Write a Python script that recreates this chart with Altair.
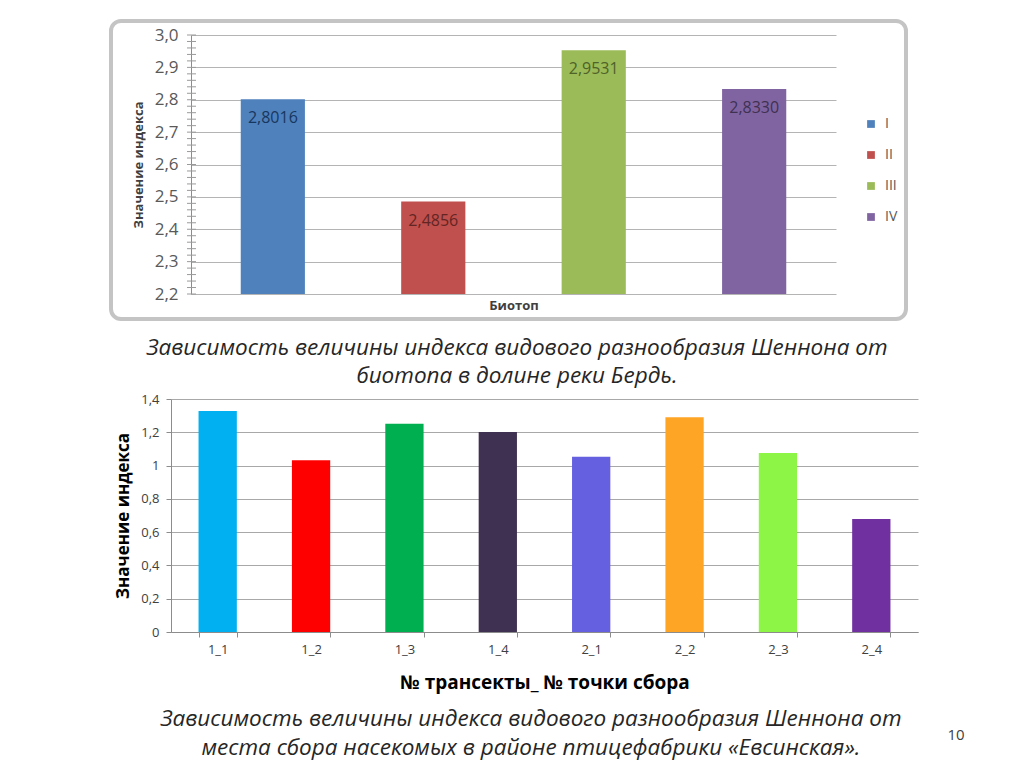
import altair as alt
import pandas as pd

FONT = "Open Sans"

# ---- data: top chart ----
biotopes = ["I", "II", "III", "IV"]
biotope_index = [2.8016, 2.4856, 2.9531, 2.8330]
biotope_text = ["2,8016", "2,4856", "2,9531", "2,8330"]
biotope_colors = ["#4F81BD", "#C0504D", "#9BBB59", "#8064A2"]
biotope_text_colors = ["#17375E", "#632523", "#4F6228", "#3F3151"]
top_ticks = [2.2, 2.3, 2.4, 2.5, 2.6, 2.7, 2.8, 2.9, 3.0]
top_minor = [round(2.2 + 0.02 * i, 2) for i in range(41)]

# ---- data: bottom chart ----
points = ["1_1", "1_2", "1_3", "1_4", "2_1", "2_2", "2_3", "2_4"]
point_index = [1.328, 1.032, 1.252, 1.202, 1.053, 1.290, 1.075, 0.679]
point_colors = ["#00B0F0", "#FF0000", "#00B050", "#3F3151",
                "#6460E0", "#FFA526", "#8CF546", "#7030A0"]
bottom_ticks = [0, 0.2, 0.4, 0.6, 0.8, 1.0, 1.2, 1.4]

caption_top = ["Зависимость величины индекса видового разнообразия Шеннона от",
               "биотопа в долине реки Бердь."]
caption_bottom = ["Зависимость величины индекса видового разнообразия Шеннона от",
                  "места сбора насекомых в районе птицефабрики «Евсинская»."]
page_number = "10"

one = pd.DataFrame({"k": [0]})

# ================= top chart =================
top_df = pd.DataFrame({"biotope": biotopes, "value": biotope_index,
                       "text": biotope_text, "tcolor": biotope_text_colors})
minor_df = pd.DataFrame({"value": top_minor})

x_top = alt.X("biotope:N", sort=biotopes,
              scale=alt.Scale(domain=biotopes, range=[20, 665],
                              paddingInner=0.6, paddingOuter=0.31),
              axis=alt.Axis(title="Биотоп", labels=False, ticks=False, domain=False,
                            titleFont=FONT, titleFontSize=13, titleFontWeight="bold",
                            titleColor="#404040", titlePadding=5))
y_scale_top = alt.Scale(domain=[2.2, 3.0], zero=False, nice=False)
y_top = alt.Y("value:Q", scale=y_scale_top,
              axis=alt.Axis(title="Значение индекса", values=top_ticks, offset=-20,
                            labelExpr="replace(format(datum.value, '.1f'), '.', ',')",
                            grid=True, gridColor="#B4B4B4", domainColor="#8C8C8C",
                            ticks=False, labelPadding=13,
                            labelFont=FONT, labelFontSize=17, labelColor="#595959",
                            titleFont=FONT, titleFontSize=13, titleFontWeight="bold",
                            titleColor="#404040", titlePadding=9))

frame = alt.Chart(one).mark_rect(fill="transparent", stroke="#C4C4C4", strokeWidth=4,
                                 cornerRadius=10).encode(
    x=alt.value(-60), x2=alt.value(735), y=alt.value(-14), y2=alt.value(284))

bars_top = alt.Chart(top_df).mark_bar().encode(
    x=x_top, y=y_top, y2=alt.datum(2.2),
    color=alt.Color("biotope:N", sort=biotopes,
                    scale=alt.Scale(domain=biotopes, range=biotope_colors),
                    legend=alt.Legend(title=None, orient="none", legendX=693, legendY=82,
                                      symbolType="square", symbolSize=60, symbolStrokeWidth=0,
                                      labelFont=FONT, labelFontSize=14, labelColor="#595959",
                                      labelOffset=7, rowPadding=17, padding=0)))

labels_top = alt.Chart(top_df).mark_text(font=FONT, fontSize=16, baseline="middle", dy=19).encode(
    x=x_top, y=y_top, text="text:N", fill=alt.Fill("tcolor:N", scale=None))

minor = alt.Chart(minor_df).mark_rule(color="#9A9A9A", strokeWidth=1).encode(
    y=y_top, x=alt.value(16), x2=alt.value(25))

cap_top = alt.Chart(one).mark_text(text=caption_top, font=FONT, fontStyle="italic",
                                   fontSize=22.5, lineHeight=28, color="#262626",
                                   align="center", baseline="middle").encode(
    x=alt.value(346), y=alt.value(312.5))

top = alt.layer(frame, bars_top, labels_top, minor, cap_top).properties(width=665, height=259)

# ================= bottom chart =================
bot_df = pd.DataFrame({"point": points, "value": point_index})

x_bot = alt.X("point:N", sort=points,
              scale=alt.Scale(domain=points, paddingInner=0.59, paddingOuter=0.295),
              axis=alt.Axis(title="№ трансекты_ № точки сбора", labelAngle=0, tickBand="extent",
                            tickSize=5, tickColor="#8C8C8C", domainColor="#8C8C8C",
                            labelFont=FONT, labelFontSize=13, labelColor="#404040",
                            labelPadding=6, titleFont=FONT, titleFontSize=19,
                            titleFontWeight="bold", titleColor="#000000", titlePadding=17))
y_bot = alt.Y("value:Q", scale=alt.Scale(domain=[0, 1.4], nice=False),
              axis=alt.Axis(title="Значение индекса", values=bottom_ticks,
                            labelExpr="replace(toString(round(datum.value*10)/10), '.', ',')",
                            grid=True, gridColor="#A8A8A8", domainColor="#8C8C8C",
                            tickColor="#8C8C8C", tickSize=5, labelPadding=7,
                            labelFont=FONT, labelFontSize=13, labelColor="#404040",
                            titleFont=FONT, titleFontSize=17, titleFontWeight="bold",
                            titleColor="#000000", titlePadding=8))

spacer = alt.Chart(one).mark_rule(strokeOpacity=0, strokeWidth=1).encode(
    x=alt.value(-40), y=alt.value(-10), y2=alt.value(0))

bars_bot = alt.Chart(bot_df).mark_bar().encode(
    x=x_bot, y=y_bot,
    color=alt.Color("point:N", sort=points,
                    scale=alt.Scale(domain=points, range=point_colors), legend=None))

cap_bot = alt.Chart(one).mark_text(text=caption_bottom, font=FONT, fontStyle="italic",
                                   fontSize=22.5, lineHeight=29, color="#262626",
                                   align="center", baseline="middle").encode(
    x=alt.value(360), y=alt.value(320))

pnum = alt.Chart(one).mark_text(text=page_number, font=FONT, fontSize=15, color="#404040",
                                align="center", baseline="middle").encode(
    x=alt.value(785), y=alt.value(336))

bottom = alt.layer(spacer, bars_bot, cap_bot, pnum).properties(width=747, height=233)

chart = alt.concat(top, bottom, columns=1, spacing=0).resolve_scale(
    color="independent").properties(
    padding={"left": 100, "top": 10, "right": 5, "bottom": 5},
    background="white").configure_view(stroke="transparent")

chart.save("out.html", embed_options={"renderer": "svg", "actions": False})
